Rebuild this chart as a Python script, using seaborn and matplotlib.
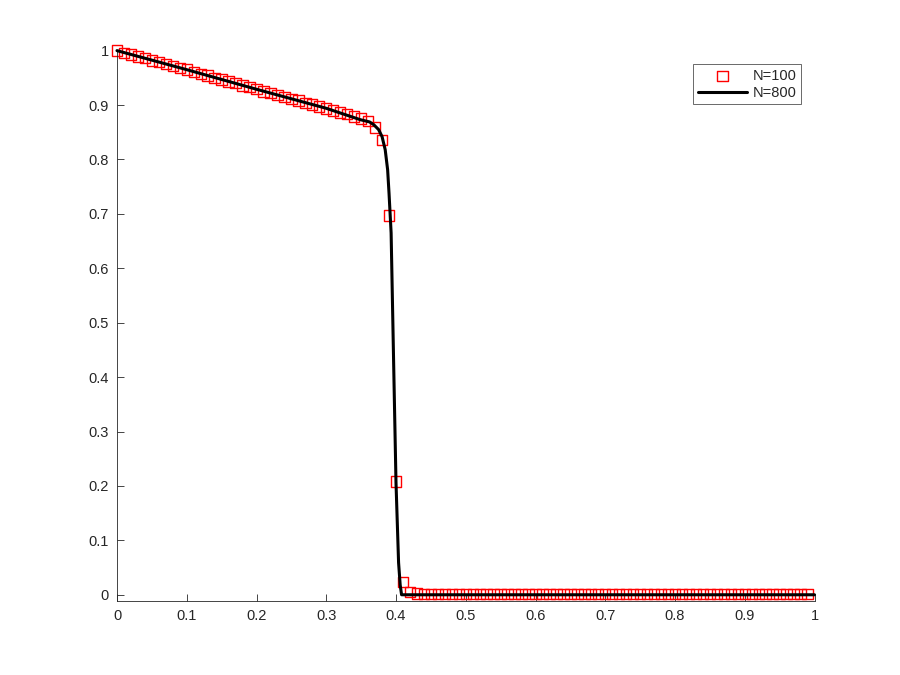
import numpy as np
import matplotlib
matplotlib.use("Agg")
import matplotlib.pyplot as plt
import seaborn as sns

# coarse solution, N=100 (cell positions and values)
x_coarse = [0.00, 0.01, 0.02, 0.03, 0.04, 0.05, 0.06, 0.07, 0.08, 0.09,
            0.10, 0.11, 0.12, 0.13, 0.14, 0.15, 0.16, 0.17, 0.18, 0.19,
            0.20, 0.21, 0.22, 0.23, 0.24, 0.25, 0.26, 0.27, 0.28, 0.29,
            0.30, 0.31, 0.32, 0.33, 0.34, 0.35, 0.36, 0.37, 0.38, 0.39,
            0.40, 0.41, 0.42, 0.43, 0.44, 0.45, 0.46, 0.47, 0.48, 0.49,
            0.50, 0.51, 0.52, 0.53, 0.54, 0.55, 0.56, 0.57, 0.58, 0.59,
            0.60, 0.61, 0.62, 0.63, 0.64, 0.65, 0.66, 0.67, 0.68, 0.69,
            0.70, 0.71, 0.72, 0.73, 0.74, 0.75, 0.76, 0.77, 0.78, 0.79,
            0.80, 0.81, 0.82, 0.83, 0.84, 0.85, 0.86, 0.87, 0.88, 0.89,
            0.90, 0.91, 0.92, 0.93, 0.94, 0.95, 0.96, 0.97, 0.98, 0.99]
u_coarse = [1.000, 0.996, 0.993, 0.989, 0.986, 0.982, 0.979, 0.975, 0.972, 0.968,
            0.965, 0.961, 0.957, 0.954, 0.950, 0.947, 0.943, 0.940, 0.936, 0.933,
            0.929, 0.925, 0.922, 0.918, 0.915, 0.911, 0.908, 0.904, 0.901, 0.897,
            0.894, 0.890, 0.886, 0.883, 0.879, 0.875, 0.871, 0.859, 0.836, 0.697,
            0.208, 0.023, 0.005, 0.002, 0.001, 0.001, 0.001, 0.001, 0.001, 0.001,
            0.001, 0.001, 0.001, 0.001, 0.001, 0.001, 0.001, 0.001, 0.001, 0.001,
            0.001, 0.001, 0.001, 0.001, 0.001, 0.001, 0.001, 0.001, 0.001, 0.001,
            0.001, 0.001, 0.001, 0.001, 0.001, 0.001, 0.001, 0.001, 0.001, 0.001,
            0.001, 0.001, 0.001, 0.001, 0.001, 0.001, 0.001, 0.001, 0.001, 0.001,
            0.001, 0.001, 0.001, 0.001, 0.001, 0.001, 0.001, 0.001, 0.001, 0.001]

# fine solution, N=800 (points along the curve)
x_fine = [0.0, 0.10, 0.20, 0.30, 0.349, 0.362, 0.368, 0.375, 0.380, 0.3845,
          0.388, 0.390, 0.393, 0.3966, 0.400, 0.4037, 0.406, 0.408, 0.42, 1.0]
u_fine = [1.0, 0.965, 0.929, 0.894, 0.873, 0.869, 0.864, 0.855, 0.842, 0.818,
          0.781, 0.738, 0.665, 0.427, 0.206, 0.059, 0.018, 0.0, 0.0, 0.0]

tick_vals = [0, 0.1, 0.2, 0.3, 0.4, 0.5, 0.6, 0.7, 0.8, 0.9, 1]
tick_labels = ["0", "0.1", "0.2", "0.3", "0.4", "0.5", "0.6", "0.7", "0.8", "0.9", "1"]

sns.set_theme(style="white")
plt.rcParams['font.family'] = ['Liberation Sans', 'DejaVu Sans']

fig = plt.figure(figsize=(9, 6.75), dpi=100)
ax = fig.add_axes([0.13, 0.11, 0.775, 0.815])

sns.scatterplot(x=x_coarse, y=u_coarse, ax=ax, marker='s', s=56,
                facecolor='none', edgecolor='#ff0000', linewidth=1.0,
                label='N=100', clip_on=False, zorder=2)
sns.lineplot(x=x_fine, y=u_fine, ax=ax, color='black', linewidth=2.2,
             label='N=800', clip_on=False, zorder=3)

ax.set_xlim(0, 1)
ax.set_ylim(-0.011, 1.0)
ax.set_xticks(tick_vals)
ax.set_xticklabels(tick_labels)
ax.set_yticks(tick_vals)
ax.set_yticklabels(tick_labels)

for side in ['top', 'right']:
    ax.spines[side].set_visible(False)
for side in ['left', 'bottom']:
    ax.spines[side].set_color('#262626')
    ax.spines[side].set_linewidth(0.6)

ax.tick_params(direction='in', length=5, width=0.6, color='#262626',
               labelsize=10.5, labelcolor='#262626', pad=6,
               bottom=True, left=True)

leg = ax.legend(loc='upper right', bbox_to_anchor=(0.981, 0.975),
                borderaxespad=0, fancybox=False, fontsize=10.5,
                handlelength=3.4, handletextpad=0.4, borderpad=0.3,
                labelspacing=0.2)
leg.get_frame().set_edgecolor('#262626')
leg.get_frame().set_linewidth(0.6)

fig.savefig("out.png", dpi=100)
